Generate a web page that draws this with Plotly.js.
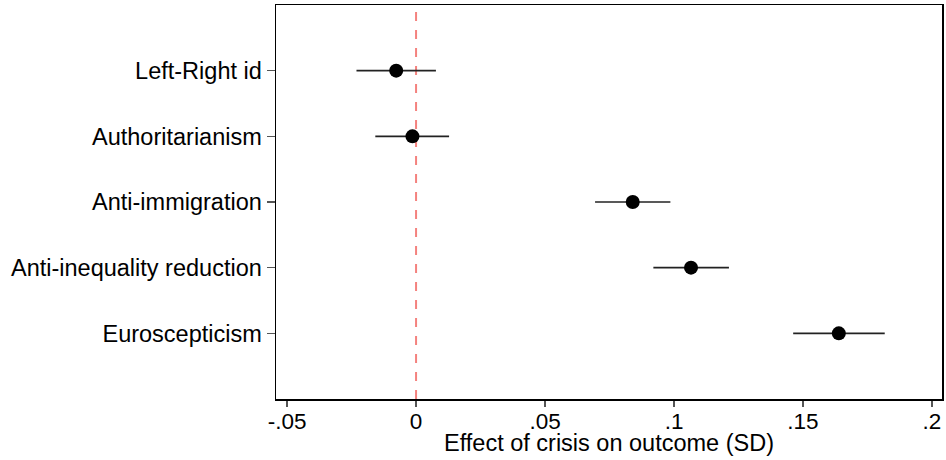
<!DOCTYPE html>
<html>
<head>
<meta charset="utf-8">
<script src="https://cdn.plot.ly/plotly-3.0.1.min.js"></script>
<style>html,body{margin:0;padding:0;background:#fff;}#chart{width:946px;height:460px;}</style>
</head>
<body>
<div id="chart"></div>
<script>
const categories = ["Left-Right id", "Authoritarianism", "Anti-immigration", "Anti-inequality reduction", "Euroscepticism"];
const positions = [1, 2, 3, 4, 5];
const estimates = [-0.0077, -0.0014, 0.0840, 0.1066, 0.1639];
const ciLow = [-0.0231, -0.0158, 0.0694, 0.0920, 0.1462];
const ciHigh = [0.0077, 0.0128, 0.0986, 0.1213, 0.1817];
const xTickVals = [-0.05, 0, 0.05, 0.1, 0.15, 0.2];
const xTickText = ["-.05", "0", ".05", ".1", ".15", ".2"];
const xTitle = "Effect of crisis on outcome (SD)";

const errPlus = estimates.map((e, i) => ciHigh[i] - e);
const errMinus = estimates.map((e, i) => e - ciLow[i]);

const font = {family: "Liberation Sans, Arial, sans-serif", size: 23.5, color: "#000"};
const xTickFont = {family: "Liberation Sans, Arial, sans-serif", size: 22.5, color: "#000"};

const traces = [{
  type: "scatter",
  mode: "markers",
  x: estimates,
  y: positions,
  marker: {color: "#000", size: 14},
  error_x: {type: "data", symmetric: false, array: errPlus, arrayminus: errMinus,
            color: "#222", thickness: 1.6, width: 0},
  hoverinfo: "x+y",
  showlegend: false
}];

const layout = {
  width: 946, height: 460,
  margin: {l: 276, r: 4, t: 5, b: 61},
  paper_bgcolor: "#fff", plot_bgcolor: "#fff",
  font: font,
  xaxis: {
    range: [-0.0543, 0.2039],
    tickvals: xTickVals, ticktext: xTickText,
    ticks: "outside", ticklen: 6, tickwidth: 1.2, tickcolor: "#555",
    ticklabelstandoff: -5,
    showgrid: false, zeroline: false,
    showline: true, linecolor: "#000", linewidth: 1.5, mirror: true,
    tickfont: xTickFont,
    automargin: false
  },
  yaxis: {
    range: [6, 0],
    tickvals: positions, ticktext: categories,
    ticks: "outside", ticklen: 8, tickwidth: 1.2, tickcolor: "#555",
    showgrid: false, zeroline: false,
    showline: true, linecolor: "#000", linewidth: 1.5, mirror: true,
    tickfont: font,
    automargin: false
  },
  annotations: [{
    text: xTitle, xref: "paper", yref: "paper", x: 0.5, y: 0,
    xanchor: "center", yanchor: "middle", yshift: -44, showarrow: false,
    font: font
  }],
  shapes: [{
    type: "line", xref: "x", yref: "paper", x0: 0, x1: 0, y0: 0, y1: 1,
    line: {color: "#f4827e", width: 2, dash: "dash"}, layer: "below"
  }]
};

Plotly.newPlot("chart", traces, layout, {displayModeBar: false, staticPlot: true});
</script>
</body>
</html>
